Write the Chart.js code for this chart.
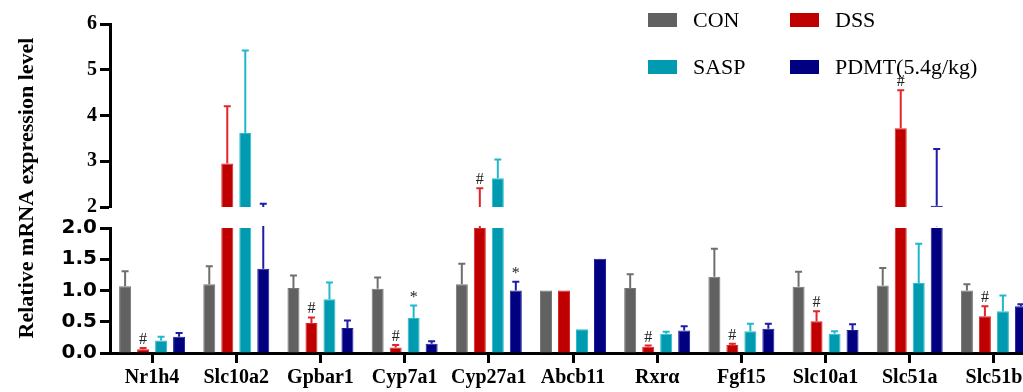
<!DOCTYPE html>
<html>
<head>
<meta charset="utf-8">
<script src="https://cdn.jsdelivr.net/npm/chart.js@4"></script>
<style>
  html, body { margin: 0; padding: 0; background: #fff; overflow: hidden; }
  #wrap { position: relative; width: 1023px; height: 392px; overflow: hidden; }
  canvas { position: absolute; left: 0; }
  #upper { top: 0; }
  #lower { top: 200px; }
</style>
</head>
<body>
<div id="wrap">
  <canvas id="upper" width="1045" height="392"></canvas>
  <canvas id="lower" width="1045" height="192"></canvas>
</div>
<script>
const categories = ['Nr1h4', 'Slc10a2', 'Gpbar1', 'Cyp7a1', 'Cyp27a1', 'Abcb11', 'Rxrα', 'Fgf15', 'Slc10a1', 'Slc51a', 'Slc51b'];
const seriesNames = ['CON', 'DSS', 'SASP', 'PDMT(5.4g/kg)'];
const yTitle = 'Relative mRNA expression level';

const con = [1.07, 1.10, 1.04, 1.03, 1.10, 1.00, 1.04, 1.22, 1.06, 1.08, 1.00];
const conSd = [0.24, 0.29, 0.20, 0.18, 0.33, 0, 0.22, 0.45, 0.24, 0.28, 0.10];
const dss = [0.06, 2.95, 0.48, 0.09, 2.00, 1.00, 0.10, 0.13, 0.51, 3.72, 0.59];
const dssSd = [0.02, 1.25, 0.09, 0.04, 0.41, 0, 0.02, 0.02, 0.16, 0.83, 0.16];
const sasp = [0.20, 3.62, 0.86, 0.56, 2.63, 0.38, 0.31, 0.35, 0.31, 1.12, 0.67];
const saspSd = [0.06, 1.80, 0.27, 0.20, 0.41, 0, 0.03, 0.12, 0.04, 0.63, 0.25];
const pdmt = [0.26, 1.35, 0.40, 0.15, 1.00, 1.51, 0.36, 0.39, 0.37, 2.03, 0.75];
const pdmtSd = [0.06, 0.72, 0.12, 0.04, 0.14, 0, 0.07, 0.08, 0.09, 1.24, 0.03];

// significance marks above the error bars
const conMarks = ['', '', '', '', '', '', '', '', '', '', ''];
const dssMarks = ['#', '', '#', '#', '#', '', '#', '#', '#', '#', '#'];
const saspMarks = ['', '', '', '*', '', '', '', '', '', '', ''];
const pdmtMarks = ['', '', '', '', '*', '', '', '', '', '', ''];

const upperTicks = [2, 3, 4, 5, 6];
const lowerTicks = [0, 0.5, 1, 1.5, 2];

const barColors = ['#616161', '#c00000', '#009bb0', '#000080'];
const edgeColors = ['#767676', '#d62a2a', '#2cbccc', '#1c1c9c'];
const errColors = ['#6e6e6e', '#e3242c', '#22b8cc', '#1c1ca8'];

const values = [con, dss, sasp, pdmt];
const sds = [conSd, dssSd, saspSd, pdmtSd];
const marks = [conMarks, dssMarks, saspMarks, pdmtMarks];

function makeDatasets() {
  return values.map((v, i) => ({
    label: seriesNames[i],
    data: v,
    backgroundColor: barColors[i],
    borderColor: edgeColors[i],
    borderWidth: 1,
    barPercentage: 0.667,
    categoryPercentage: 0.855,
    clip: 0
  }));
}

const errorBars = {
  id: 'errorBars',
  afterDatasetsDraw(chart) {
    const ctx = chart.ctx;
    const area = chart.chartArea;
    const y = chart.scales.y;
    const isUpper = chart.canvas.id === 'upper';
    chart.data.datasets.forEach((ds, di) => {
      chart.getDatasetMeta(di).data.forEach((bar, j) => {
        const v = values[di][j];
        const sd = sds[di][j];
        const top = v + sd;
        if (sd > 0) {
          const yTop = y.getPixelForValue(top);
          ctx.save();
          ctx.beginPath();
          ctx.rect(area.left, area.top - 2, area.right - area.left, area.bottom - area.top + 2);
          ctx.clip();
          ctx.strokeStyle = errColors[di];
          ctx.lineWidth = 2;
          ctx.beginPath();
          ctx.moveTo(bar.x, y.getPixelForValue(v));
          ctx.lineTo(bar.x, yTop);
          ctx.moveTo(bar.x - 3.5, yTop);
          ctx.lineTo(bar.x + 3.5, yTop);
          ctx.stroke();
          ctx.restore();
        }
        const m = marks[di][j];
        if (m && (isUpper ? top > 2 : top <= 2)) {
          ctx.save();
          ctx.fillStyle = '#222';
          ctx.font = '16px "Liberation Serif", serif';
          ctx.textAlign = 'center';
          ctx.fillText(m, bar.x, y.getPixelForValue(top) - 4);
          ctx.restore();
        }
      });
    });
  }
};

// 2 x 2 legend and the shared y title, drawn on the upper canvas
const legendAndTitle = {
  id: 'legendAndTitle',
  afterDraw(chart) {
    const ctx = chart.ctx;
    ctx.save();
    ctx.font = '22px "Liberation Serif", serif';
    ctx.textBaseline = 'middle';
    ctx.textAlign = 'left';
    seriesNames.forEach((name, i) => {
      const bx = 648 + (i % 2) * 142;
      const by = 13 + Math.floor(i / 2) * 47;
      ctx.fillStyle = barColors[i];
      ctx.fillRect(bx, by, 29, 14);
      ctx.fillStyle = '#000';
      ctx.fillText(name, bx + 45, by + 8);
    });
    ctx.translate(27, 188);
    ctx.rotate(-Math.PI / 2);
    ctx.font = 'bold 22px "Liberation Serif", serif';
    ctx.textAlign = 'center';
    ctx.fillStyle = '#000';
    ctx.fillText(yTitle, 0, 0);
    ctx.restore();
  }
};

function yAxis(min, max, ticks, font, fmt) {
  return {
    min: min,
    max: max,
    afterFit(scale) { scale.width = 110; },
    afterBuildTicks(scale) { scale.ticks = ticks.map(v => ({ value: v })); },
    border: { display: true, width: 3, color: '#000' },
    grid: { drawOnChartArea: false, tickLength: 10, tickWidth: 3, tickColor: '#000', color: '#000' },
    ticks: { color: '#000', font: font, padding: 3, callback: fmt }
  };
}

new Chart(document.getElementById('upper'), {
  type: 'bar',
  data: { labels: categories, datasets: makeDatasets() },
  plugins: [errorBars, legendAndTitle],
  options: {
    responsive: false,
    animation: false,
    layout: { padding: { top: 24, bottom: 185, left: 0, right: 9 } },
    plugins: { legend: { display: false }, tooltip: { enabled: false } },
    scales: {
      x: { display: false },
      y: yAxis(2, 6, upperTicks, { family: 'Liberation Serif', size: 20, weight: 'bold' }, v => String(v))
    }
  }
});

new Chart(document.getElementById('lower'), {
  type: 'bar',
  data: { labels: categories, datasets: makeDatasets() },
  plugins: [errorBars],
  options: {
    responsive: false,
    animation: false,
    layout: { padding: { top: 28, bottom: 0, left: 0, right: 9 } },
    plugins: { legend: { display: false }, tooltip: { enabled: false } },
    scales: {
      x: {
        z: 1,
        afterFit(scale) { scale.height = 39; },
        border: { display: true, width: 3, color: '#000' },
        grid: { offset: false, drawOnChartArea: false, tickLength: 10, tickWidth: 3, tickColor: '#000' },
        ticks: {
          color: '#000', padding: 3, autoSkip: false, maxRotation: 0,
          font: { family: 'Liberation Serif', size: 20, weight: 'bold' }
        }
      },
      y: yAxis(0, 2, lowerTicks, { family: 'DejaVu Sans', size: 20, weight: 'bold' }, v => v.toFixed(1))
    }
  }
});
</script>
</body>
</html>
